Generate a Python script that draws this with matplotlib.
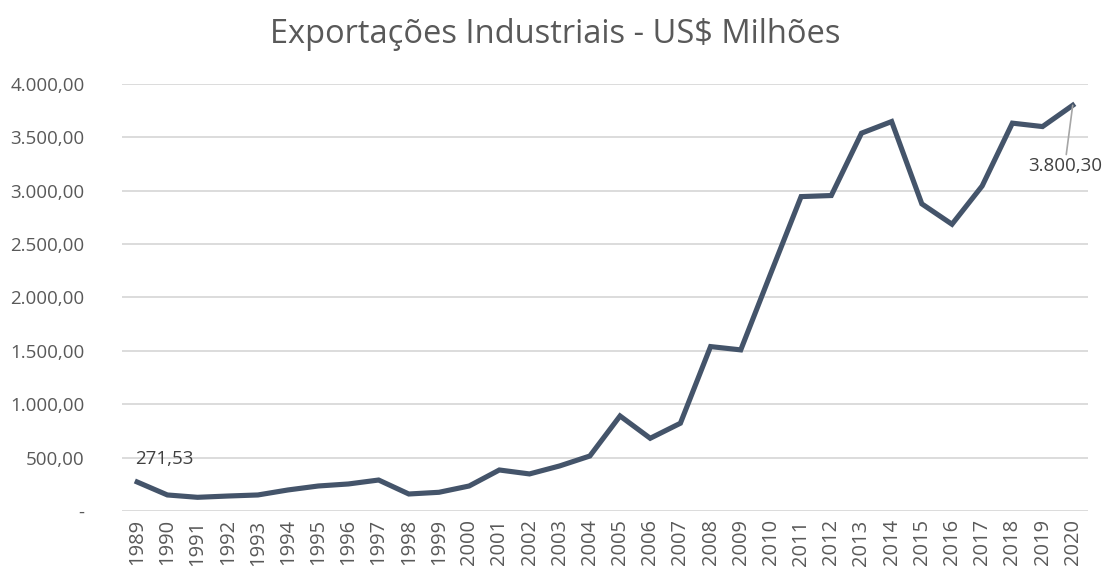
import matplotlib.pyplot as plt
from matplotlib.ticker import FuncFormatter

plt.rcParams['font.family'] = ['Open Sans', 'DejaVu Sans']

years = list(range(1989, 2021))
valores = [271.53, 150, 128, 140, 150, 197, 234, 253, 290, 159, 175, 234,
           384, 347, 422, 515, 890, 681, 822, 1540, 1509, 2230, 2945, 2955,
           3539, 3648, 2877, 2686, 3045, 3633, 3601, 3800.30]
titulo = 'Exportações Industriais - US$ Milhões'

line_color = '#44546A'
text_color = '#595959'


def fmt_br(v, pos=None):
    if v == 0:
        return '-'
    s = f'{v:,.2f}'
    return s.replace(',', 'X').replace('.', ',').replace('X', '.')


fig = plt.figure(figsize=(11.1, 5.74), dpi=100)
ax = fig.add_axes([0.110, 0.1098, 0.870, 0.7439])

ax.plot(years, valores, color=line_color, linewidth=3.7, solid_joinstyle='miter',
        zorder=3)

ax.set_xlim(1988.5, 2020.5)
ax.set_ylim(0, 4000)
ax.set_yticks(range(0, 4001, 500))
ax.yaxis.set_major_formatter(FuncFormatter(fmt_br))
ax.set_xticks(years)
ax.set_xticklabels([str(y) for y in years], rotation=90)
ax.tick_params(axis='both', length=0, labelcolor=text_color)
ax.tick_params(axis='x', pad=6, labelsize=14.5)
ax.tick_params(axis='y', pad=27, labelsize=13.5)
for lbl in ax.get_yticklabels():
    lbl.set_horizontalalignment('right')
ax.grid(axis='y', color='#D9D9D9', linewidth=1.3)
ax.set_axisbelow(True)
for s in ax.spines.values():
    s.set_visible(False)

# rótulos de dados (primeiro e último)
ax.annotate(fmt_br(valores[0]), (years[0], valores[0]), xytext=(-2, 14),
            textcoords='offset pixels', fontsize=13.5, color='#404040',
            ha='left', va='bottom')
ax.annotate(fmt_br(valores[-1]), (years[-1], valores[-1]), xytext=(-8, -52),
            textcoords='offset pixels', fontsize=13.5, color='#404040',
            ha='center', va='top',
            arrowprops=dict(arrowstyle='-', color='#A6A6A6', lw=1.2,
                            shrinkA=0, shrinkB=0))

fig.text(0.5, 0.94, titulo, ha='center', va='center', fontsize=23.5,
         color=text_color)

fig.savefig('out.png', dpi=100)
